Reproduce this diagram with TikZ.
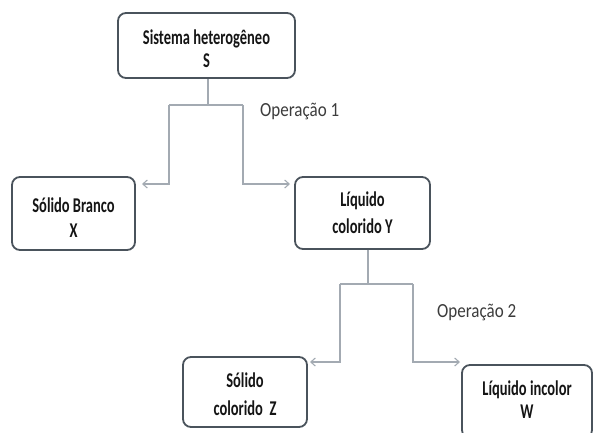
\documentclass[tikz,border=0pt]{standalone}
\usepackage{fontspec}
\usepackage{graphicx}
\setmainfont{Carlito}
\newfontfamily\opfont[FakeStretch=0.85]{Carlito}
\usetikzlibrary{arrows.meta}
\definecolor{boxline}{HTML}{4A535C}
\definecolor{conncol}{HTML}{A3AAB2}
\definecolor{txt}{HTML}{151515}
\definecolor{optxt}{HTML}{3C3C3C}
\newcommand{\nar}[1]{\scalebox{0.69}[1]{#1}}
\newcommand{\toph}[1]{\rule{0pt}{#1}}
\newcommand{\botd}[1]{\rule[-#1]{0pt}{#1}}
\tikzset{
 box/.style={draw=boxline, line width=1.8pt, rounded corners=8pt, fill=white, align=center, text=txt,
   font=\bfseries\fontsize{21}{23}\selectfont, inner sep=0pt},
 conn/.style={draw=conncol, line width=1.1pt},
 arr/.style={conn, -{Straight Barb[length=4.5pt,width=8pt]}},
 oplabel/.style={text=optxt, font=\opfont\fontsize{20}{22}\selectfont, anchor=base west, inner sep=0pt}
}
\begin{document}
\begin{tikzpicture}[x=1pt,y=-1pt]
\path[use as bounding box] (0,0) rectangle (593,432);
\clip (0,0) rectangle (593,432);
\fill[white] (0,0) rectangle (593,432);
% boxes
\node[box, minimum width=177pt, minimum height=65pt] (S) at (206.5,45.5)
  {\toph{22pt}\nar{Sistema heterogêneo}\\\nar{S}};
\node[box, minimum width=123pt, minimum height=73pt] (X) at (73.5,213.5)
  {\toph{22pt}\nar{Sólido Branco}\\[2pt]\nar{X}};
\node[box, minimum width=135pt, minimum height=72pt] (Y) at (362.5,213)
  {\toph{21pt}\nar{Líquido}\\[4pt]\nar{colorido Y}\botd{8pt}};
\node[box, minimum width=124pt, minimum height=70pt] (Z) at (245,392)
  {\toph{21pt}\nar{Sólido}\\[5pt]\nar{colorido~~Z}\botd{2pt}};
\node[box, minimum width=130pt, minimum height=73pt] (W) at (527,401.5)
  {\toph{21pt}\nar{Líquido incolor}\\\nar{W}\botd{10pt}};
% junction coordinates
\coordinate (j1) at (208,105);
\coordinate (l1) at (169,105);
\coordinate (r1) at (243,105);
\coordinate (xa) at (142,184);
\coordinate (ya) at (290,184);
\coordinate (j2) at (368,284);
\coordinate (l2) at (340,284);
\coordinate (r2) at (413,284);
\coordinate (za) at (310,362);
\coordinate (wa) at (460,362);
% connectors
\draw[conn] (S.south -| j1) -- (j1);
\draw[conn] (l1) -- (r1);
\draw[arr] (l1) |- (xa);
\draw[arr] (r1) |- (ya);
\draw[conn] (Y.south -| j2) -- (j2);
\draw[conn] (l2) -- (r2);
\draw[arr] (l2) |- (za);
\draw[arr] (r2) |- (wa);
% labels
\node[oplabel] (op1) at (260,116) {Operação 1};
\node[oplabel] (op2) at (437,317) {Operação 2};
\end{tikzpicture}
\end{document}
